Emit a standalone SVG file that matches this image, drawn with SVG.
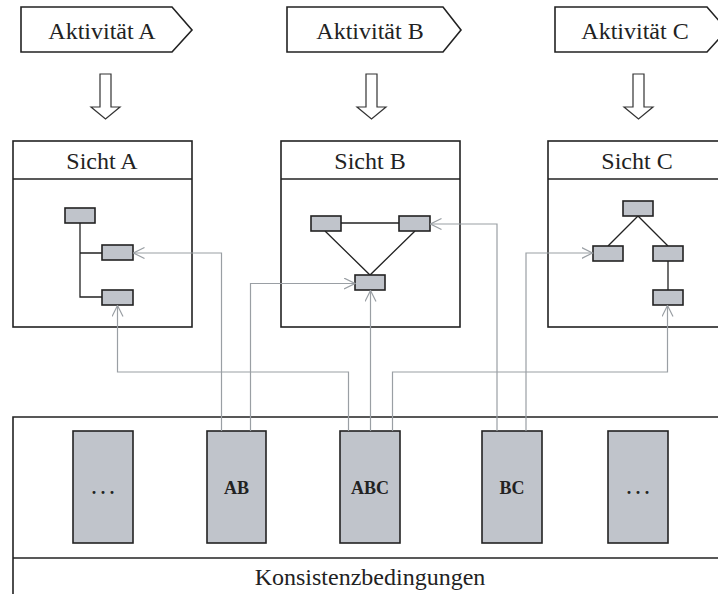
<svg xmlns="http://www.w3.org/2000/svg" width="718" height="594" viewBox="0 0 718 594">
  <style>
    .txt { font-size: 24px; fill: #222; text-anchor: middle; }
    .lbl { font-size: 18px; font-weight: bold; fill: #222; text-anchor: middle; }
    .frame { fill: #fff; stroke: #222; stroke-width: 1.6; }
    .arrow { fill: #fff; stroke: #333; stroke-width: 1.2; }
    .item { fill: #c0c4cb; stroke: #222; stroke-width: 1.6; }
    .edge { fill: none; stroke: #222; stroke-width: 1.3; }
    .link { fill: none; stroke: #9a9fa4; stroke-width: 1.2; }
  </style>
  <defs>
    <marker id="open" viewBox="0 0 12 12" refX="11" refY="6" markerWidth="12" markerHeight="12" markerUnits="userSpaceOnUse" orient="auto">
      <path d="M0,0.5 L11,6 L0,11.5" fill="none" stroke="#9a9fa4" stroke-width="1.2"/>
    </marker>
  </defs>

  <rect width="718" height="594" fill="#fff"/>

  <g font-family="'Liberation Serif', 'Times New Roman', Times, serif">
  <!-- activities -->
  <g id="act-a">
    <path class="frame" d="M21,7 H172 L192,30 L172,52 H21 Z"/>
    <text class="txt" x="102" y="39">Aktivität A</text>
  </g>
  <g id="act-b">
    <path class="frame" d="M287,7 H443 L461,30 L443,52 H287 Z"/>
    <text class="txt" x="370" y="39">Aktivität B</text>
  </g>
  <g id="act-c">
    <path class="frame" d="M555,7 H707 L727,30 L707,52 H555 Z"/>
    <text class="txt" x="635" y="39">Aktivität C</text>
  </g>

  <!-- hollow down arrows -->
  <g id="flow-a"><path class="arrow" d="M100,74 H111 V107 H120 L105.5,119 L91,107 H100 Z"/></g>
  <g id="flow-b"><path class="arrow" d="M366,74 H377 V107 H386 L371.5,119 L357,107 H366 Z"/></g>
  <g id="flow-c"><path class="arrow" d="M633,74 H644 V107 H653 L638.5,119 L624,107 H633 Z"/></g>

  <!-- view A -->
  <g id="view-a">
    <rect class="frame" x="13" y="141" width="179" height="186"/>
    <line class="edge" x1="13" y1="179" x2="192" y2="179" stroke-width="1.6"/>
    <text class="txt" x="102" y="169">Sicht A</text>
    <path class="edge" d="M80,223 V297 H102 M80,253 H102"/>
    <rect class="item" x="65" y="208" width="30" height="15"/>
    <rect class="item" x="102" y="245" width="31" height="15"/>
    <rect class="item" x="102" y="290" width="31" height="15"/>
  </g>

  <!-- view B -->
  <g id="view-b">
    <rect class="frame" x="281" y="141" width="179" height="186"/>
    <line class="edge" x1="281" y1="179" x2="460" y2="179" stroke-width="1.6"/>
    <text class="txt" x="370" y="169">Sicht B</text>
    <path class="edge" d="M341,223 H399 M325,231 L370,275 L415,231"/>
    <rect class="item" x="311" y="216" width="30" height="15"/>
    <rect class="item" x="399" y="216" width="31" height="15"/>
    <rect class="item" x="355" y="275" width="30" height="15"/>
  </g>

  <!-- view C -->
  <g id="view-c">
    <rect class="frame" x="548" y="141" width="179" height="186"/>
    <line class="edge" x1="548" y1="179" x2="727" y2="179" stroke-width="1.6"/>
    <text class="txt" x="637" y="169">Sicht C</text>
    <path class="edge" d="M608,246 L638,216 L668,246 M668,261 V290"/>
    <rect class="item" x="623" y="201" width="30" height="15"/>
    <rect class="item" x="593" y="246" width="30" height="15"/>
    <rect class="item" x="653" y="246" width="30" height="15"/>
    <rect class="item" x="653" y="290" width="30" height="15"/>
  </g>

  <!-- consistency constraints -->
  <g id="constraints">
    <path class="frame" d="M13,600 V417 H727 V600"/>
    <line class="edge" x1="13" y1="558" x2="727" y2="558" stroke-width="1.8"/>
    <text class="txt" x="370" y="585">Konsistenzbedingungen</text>
  </g>
  <g id="c-dots1">
    <rect class="item" x="73" y="431" width="60" height="112"/>
    <text class="lbl" x="103" y="494">. . .</text>
  </g>
  <g id="c-ab">
    <rect class="item" x="207" y="431" width="59" height="112"/>
    <text class="lbl" x="236.5" y="494">AB</text>
  </g>
  <g id="c-abc">
    <rect class="item" x="340" y="431" width="60" height="112"/>
    <text class="lbl" x="370" y="494">ABC</text>
  </g>
  <g id="c-bc">
    <rect class="item" x="482" y="431" width="60" height="112"/>
    <text class="lbl" x="512" y="494">BC</text>
  </g>
  <g id="c-dots2">
    <rect class="item" x="608" y="431" width="60" height="112"/>
    <text class="lbl" x="638" y="494">. . .</text>
  </g>
  </g>

  <!-- connectors -->
  <g id="connectors">
    <path class="link" d="M221.5,431 V253 H133.5" marker-end="url(#open)"/>
    <path class="link" d="M250.5,431 V283.5 H355" marker-end="url(#open)"/>
    <path class="link" d="M348.5,431 V372 H117.5 V305.5" marker-end="url(#open)"/>
    <path class="link" d="M370.5,431 V290.5" marker-end="url(#open)"/>
    <path class="link" d="M392.5,431 V372 H667.5 V305.5" marker-end="url(#open)"/>
    <path class="link" d="M497,431 V224 H430.5" marker-end="url(#open)"/>
    <path class="link" d="M526,431 V253 H592.5" marker-end="url(#open)"/>
  </g>
</svg>
